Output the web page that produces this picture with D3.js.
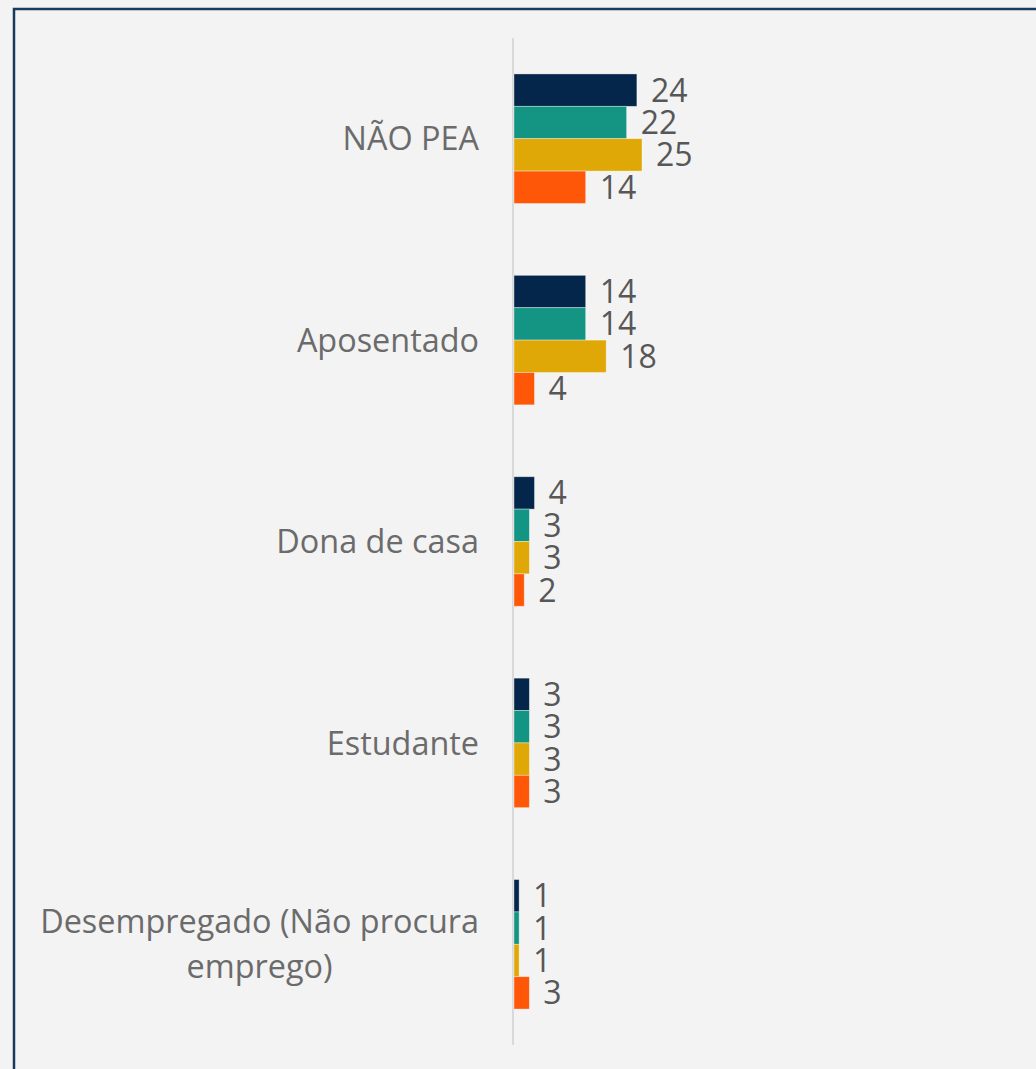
<!DOCTYPE html>
<html>
<head>
<meta charset="utf-8">
<script src="https://cdn.jsdelivr.net/npm/d3@7"></script>
<style>
  html, body { margin: 0; padding: 0; background: #f3f3f3; }
  svg { display: block; }
</style>
</head>
<body>
<svg id="chart" width="1036" height="1069"></svg>
<script>
// Categories (top to bottom)
const categories = [
  "NÃO PEA",
  "Aposentado",
  "Dona de casa",
  "Estudante",
  "Desempregado (Não procura emprego)"
];

// Four series, one bar each per category
const seriesKeys = ["s1", "s2", "s3", "s4"];
const s1 = [24, 14, 4, 3, 1];
const s2 = [22, 14, 3, 3, 1];
const s3 = [25, 18, 3, 3, 1];
const s4 = [14, 4, 2, 3, 3];
const seriesValues = [s1, s2, s3, s4];
const seriesColors = ["#03264a", "#149483", "#e0a806", "#ff5708"];

// Wrapped category label lines
const labelLines = {
  "Desempregado (Não procura emprego)": ["Desempregado (Não procura", "emprego)"]
};

const FONT = "'Open Sans', sans-serif";

const svg = d3.select("#chart");
const W = 1036, H = 1069;

svg.append("rect").attr("width", W).attr("height", H).attr("fill", "#f3f3f3");
// frame
svg.append("rect")
  .attr("x", 14).attr("y", 9).attr("width", 1200).attr("height", 1200)
  .attr("fill", "none").attr("stroke", "#1a3a5c").attr("stroke-width", 2.5);

const x = d3.scaleLinear().domain([0, 100]).range([514, 1026]);
const y0 = d3.scaleBand().domain(categories).range([38, 1045]).padding(0);
const y1 = d3.scaleBand().domain(seriesKeys).range([0, y0.bandwidth()])
  .paddingInner(0).paddingOuter(1.11);

const rows = categories.map((c, i) => ({
  cat: c,
  vals: seriesKeys.map((k, j) => ({ key: k, value: seriesValues[j][i], color: seriesColors[j] }))
}));

// axis line
svg.append("line")
  .attr("x1", x(0) - 1).attr("x2", x(0) - 1)
  .attr("y1", 38).attr("y2", 1045)
  .attr("stroke", "#d9d9d9").attr("stroke-width", 2);

const g = svg.selectAll("g.cat").data(rows).join("g")
  .attr("class", "cat")
  .attr("transform", d => `translate(0,${y0(d.cat)})`);

g.selectAll("rect.bar").data(d => d.vals).join("rect")
  .attr("class", "bar")
  .attr("x", x(0))
  .attr("y", d => y1(d.key))
  .attr("width", d => x(d.value) - x(0))
  .attr("height", y1.bandwidth())
  .attr("fill", d => d.color)
  .attr("stroke", "rgba(255,255,255,0.45)")
  .attr("stroke-width", 0.8);

g.selectAll("text.val").data(d => d.vals).join("text")
  .attr("class", "val")
  .attr("x", d => x(d.value) + 14)
  .attr("y", d => y1(d.key) + y1.bandwidth() / 2)
  .attr("dy", "0.36em")
  .attr("font-family", FONT)
  .attr("font-size", 32)
  .attr("fill", "#575757")
  .text(d => d.value);

// category labels
const labelRight = 479;
g.each(function (d) {
  const lines = labelLines[d.cat] || [d.cat];
  const cy = y0.bandwidth() / 2;
  const lh = 45;
  const t = d3.select(this).append("text")
    .attr("font-family", FONT)
    .attr("font-size", 32.4)
    .attr("fill", "#6b6b6b");
  const spans = lines.map((ln, i) => t.append("tspan")
    .attr("y", cy + (i - (lines.length - 1) / 2) * lh)
    .attr("dy", "0.36em")
    .text(ln));
  // lines are centred within the block, block right-aligned
  const widths = spans.map(s => s.node().getComputedTextLength());
  const maxW = d3.max(widths);
  const mid = labelRight - maxW / 2;
  spans.forEach(s => s.attr("x", mid).attr("text-anchor", "middle"));
});
</script>
</body>
</html>
